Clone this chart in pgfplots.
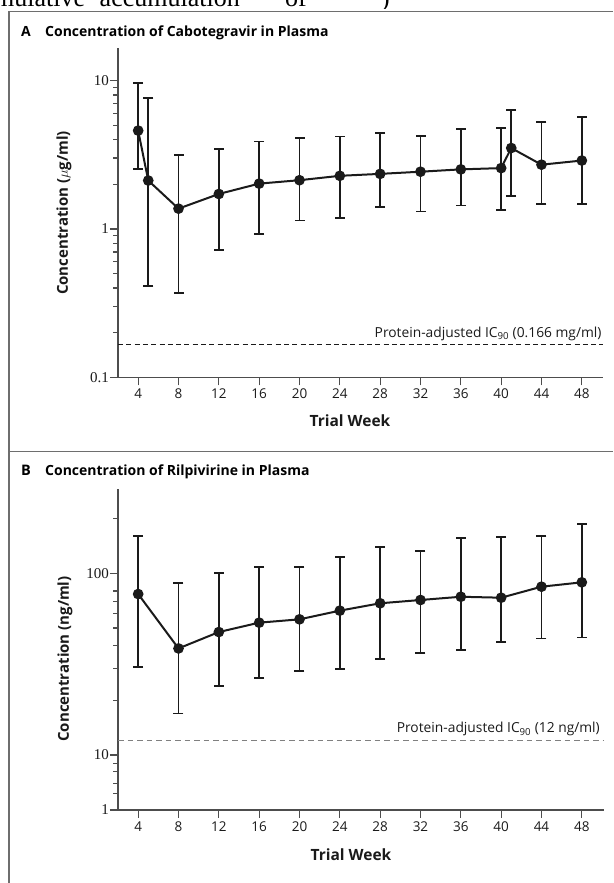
\documentclass[border=0pt]{standalone}
\usepackage{fontspec}
\setmainfont{Open Sans}
\newfontfamily\serifnum{Liberation Serif}
\usepackage{pgfplots}
\pgfplotsset{compat=1.18}

\definecolor{axgray}{HTML}{4D4D4D}
\definecolor{ink}{HTML}{1A1A1A}
\definecolor{frame}{HTML}{6E6E6E}

\pgfplotsset{
  every axis/.append style={
    scale only axis, clip=false, unbounded coords=jump,
    axis line style={axgray, line width=1.3pt, -},
    tick style={axgray, line width=1.3pt},
    major tick length=8pt, minor tick length=5pt,
    tick align=outside,
    yticklabel style={font=\serifnum\fontsize{15}{15}\selectfont, ink, inner sep=1pt},
    xticklabel style={font=\fontsize{13.5}{14}\selectfont, ink},
  },
}

\begin{document}
\begin{tikzpicture}
\useasboundingbox (0pt,0pt) rectangle (613pt,883pt);

% stray line of the page above the figure
\begin{scope}
\clip (0pt,874pt) rectangle (613pt,883pt);
\node[anchor=base west, inner sep=0pt, font=\serifnum\fontsize{26}{26}\selectfont] at (-6pt,876pt) {mulative};
\node[anchor=base west, inner sep=0pt, font=\serifnum\fontsize{26}{26}\selectfont] at (88pt,876pt) {“accumulation”};
\node[anchor=base west, inner sep=0pt, font=\serifnum\fontsize{26}{26}\selectfont] at (285pt,876pt) {of};
\node[anchor=base west, inner sep=0pt, font=\serifnum\fontsize{26}{26}\selectfont] at (381pt,876pt) {)};
\end{scope}

% frame
\draw[frame, line width=1.3pt] (613pt,871.3pt) -- (9pt,871.3pt) -- (9pt,0pt);
\draw[frame, line width=1.3pt] (9pt,431.3pt) -- (613pt,431.3pt);

% ---------- panel A ----------
\node[anchor=base west, inner sep=0pt, font=\bfseries\fontsize{14}{14}\selectfont] at (21pt,846pt) {A};
\node[anchor=base west, inner sep=0pt, font=\bfseries\fontsize{14}{14}\selectfont] at (45pt,846pt) {Concentration of Cabotegravir in Plasma};

\begin{axis}[ymode=log,
  at={(118pt,505.7pt)}, anchor=south west, width=485pt, height=329pt,
  xmin=2, xmax=50.1, ymin=0.1, ymax=16.5,
  axis x line*=bottom, axis y line*=left,
  xtick={4,8,12,16,20,24,28,32,36,40,44,48},
  xticklabels={4,8,12,16,20,24,28,32,36,40,44,48},
  ytick={0.1,1,10}, yticklabels={0.1,1,10},
  minor ytick={0.2,0.3,0.4,0.5,0.6,0.7,0.8,0.9,2,3,4,5,6,7,8,9},
]
\addplot[ink, line width=1.4pt, dash pattern=on 5pt off 3.3pt] coordinates {(2,0.166) (50.1,0.166)};
% ranges (lower, upper) per visit
\addplot[ink, line width=1.8pt, mark=-, mark size=5pt] coordinates {
(4,2.53) (4,9.65) (4,nan) (5,0.412) (5,7.67) (5,nan) (8,0.37) (8,3.16) (8,nan)
(12,0.72) (12,3.47) (12,nan) (16,0.92) (16,3.89) (16,nan) (20,1.14) (20,4.12) (20,nan)
(24,1.19) (24,4.20) (24,nan) (28,1.40) (28,4.45) (28,nan) (32,1.31) (32,4.25) (32,nan)
(36,1.44) (36,4.69) (36,nan) (40,1.34) (40,4.79) (40,nan) (41,1.67) (41,6.34) (41,nan)
(44,1.47) (44,5.23) (44,nan) (48,1.47) (48,5.68)};
% medians
\addplot[ink, line width=2pt, mark=*, mark size=4.3pt, mark options={solid}] coordinates {
(4,4.6) (5,2.12) (8,1.37) (12,1.72) (16,2.02) (20,2.13) (24,2.28) (28,2.35)
(32,2.43) (36,2.52) (40,2.57) (41,3.51) (44,2.71) (48,2.89)};
\end{axis}

\node[rotate=90, font=\bfseries\fontsize{15}{15}\selectfont, ink] at (64pt,670pt) {Concentration ($\mu$g/ml)};
\node[anchor=base, inner sep=0pt, font=\bfseries\fontsize{15.5}{15.5}\selectfont, ink] at (350pt,456pt) {Trial Week};
\node[anchor=base east, inner sep=0pt, font=\fontsize{13.8}{14}\selectfont, ink] at (601.7pt,545.5pt) {Protein-adjusted IC\textsubscript{90} (0.166 mg/ml)};

% ---------- panel B ----------
\node[anchor=base west, inner sep=0pt, font=\bfseries\fontsize{14.5}{15}\selectfont] at (21pt,407.5pt) {B};
\node[anchor=base west, inner sep=0pt, font=\bfseries\fontsize{14}{14}\selectfont] at (45pt,407.5pt) {Concentration of Rilpivirine in Plasma};

% upper part of the broken axis (10 to 290)
\begin{axis}[ymode=log,
  at={(118pt,128pt)}, anchor=south west, width=486pt, height=265.7pt,
  xmin=2, xmax=50.2, ymin=10, ymax=290,
  axis y line*=left, axis x line=none, xtick=\empty,
  ytick={100}, yticklabels={100},
  minor ytick={20,30,40,50,60,70,80,200},
]
\addplot[gray, line width=0.9pt, dash pattern=on 5.5pt off 4pt] coordinates {(2,12) (50.2,12)};
\addplot[ink, line width=1.8pt, mark=-, mark size=5pt] coordinates {
(4,30.4) (4,160) (4,nan) (8,16.9) (8,88) (8,nan) (12,24.0) (12,100.8) (12,nan)
(16,26.6) (16,108.8) (16,nan) (20,29.0) (20,108) (20,nan) (24,29.8) (24,123) (24,nan)
(28,33.7) (28,139) (28,nan) (32,36.4) (32,132.7) (32,nan) (36,37.8) (36,156) (36,nan)
(40,41.7) (40,158) (40,nan) (44,43.8) (44,160) (44,nan) (48,44.3) (48,187.5)};
\addplot[ink, line width=2pt, mark=*, mark size=4.3pt, mark options={solid}] coordinates {
(4,76.9) (8,38.6) (12,47.5) (16,53.5) (20,55.8) (24,62.3) (28,68.4) (32,71.3)
(36,74.3) (40,73.4) (44,84.4) (48,89.2)};
\end{axis}

% lower, compressed part (1 to 10)
\begin{axis}[ymode=log,
  at={(118pt,73pt)}, anchor=south west, width=486pt, height=55pt,
  xmin=2, xmax=50.2, ymin=1, ymax=10,
  axis x line*=bottom, axis y line*=left,
  xtick={4,8,12,16,20,24,28,32,36,40,44,48},
  xticklabels={4,8,12,16,20,24,28,32,36,40,44,48},
  ytick={1,10}, yticklabels={1,10},
  minor ytick={2,3,5,7},
]
\end{axis}

\node[rotate=90, font=\bfseries\fontsize{15}{15}\selectfont, ink] at (65pt,224pt) {Concentration (ng/ml)};
\node[anchor=base, inner sep=0pt, font=\bfseries\fontsize{15.5}{15.5}\selectfont, ink] at (351pt,22pt) {Trial Week};
\node[anchor=base east, inner sep=0pt, font=\fontsize{13.8}{14}\selectfont, ink] at (600pt,150pt) {Protein-adjusted IC\textsubscript{90} (12 ng/ml)};
\end{tikzpicture}
\end{document}
